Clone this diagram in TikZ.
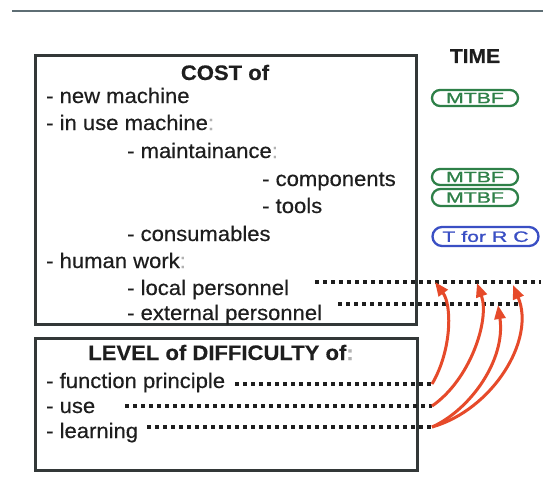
\documentclass[tikz,border=0pt]{standalone}
\usepackage{fontspec}
\setmainfont[FakeStretch=1.05,FakeBold=0.4]{Liberation Sans}
\usetikzlibrary{shapes.misc,arrows.meta}
\definecolor{textc}{HTML}{1E1E1E}
\definecolor{framec}{HTML}{333838}
\definecolor{greenc}{HTML}{2E8048}
\definecolor{bluec}{HTML}{3A4FC4}
\definecolor{arrc}{HTML}{E64A2A}
\definecolor{topc}{HTML}{5E6E74}
\begin{document}
\begin{tikzpicture}[x=1pt,y=-1pt,
  txt/.style={anchor=base west, inner sep=0pt, text=textc, font=\fontsize{21}{25}\selectfont},
  headtxt/.style={anchor=base, inner sep=0pt, text=textc, font=\fontsize{21}{25}\selectfont\bfseries},
  frame/.style={draw=framec, line width=3pt},
  pill/.style={rounded rectangle, draw, line width=2.3pt, inner sep=0pt, minimum width=86pt, minimum height=16pt, font=\fontsize{15}{15}\selectfont\addfontfeature{FakeBold=1}},
  greenpill/.style={pill, draw=greenc, text=greenc},
  bluepill/.style={pill, draw=bluec, text=bluec},
  dots/.style={draw=textc, line width=3.3pt, dash pattern=on 3.5pt off 4.5pt},
  arr/.style={draw=arrc, line width=3pt, -{Triangle[length=14pt,width=11pt]}}
]
\useasboundingbox (0,0) rectangle (543,500);
\fill[white] (0,0) rectangle (543,500);
% top rule
\draw[topc, line width=2.2pt] (12,11) -- (543,11);

% frames
\draw[frame] (35,56) rectangle (416,324);
\draw[frame] (35,338) rectangle (417,470);

% COST box texts
\node[headtxt] (cost) at (225,80) {COST of};
\node[txt] (newm) at (46,103) {- new machine};
\node[txt] (inuse) at (46,130) {- in use machine{\color{gray!60}:}};
\node[txt] (maint) at (127,158) {- maintainance{\color{gray!60}:}};
\node[txt] (comp) at (262,186) {- components};
\node[txt] (tools) at (262,213) {- tools};
\node[txt] (cons) at (127,241) {- consumables};
\node[txt] (human) at (46,268) {- human work{\color{gray!60}:}};
\node[txt] (local) at (127,295) {- local personnel};
\node[txt] (ext) at (127,320) {- external personnel};

% LEVEL box texts
\node[headtxt] (level) at (221,360) {LEVEL of DIFFICULTY of{\color{gray!60}:}};
\node[txt] (func) at (46,388) {- function principle};
\node[txt] (use) at (46,413) {- use};
\node[txt] (learn) at (46,438) {- learning};

% TIME column
\node[headtxt, font=\fontsize{20}{24}\selectfont\bfseries] (time) at (475,63) {TIME};
\node[greenpill] (m1) at (475,98) {\scalebox{1.35}[1]{MTBF}};
\node[greenpill] (m2) at (475,177) {\scalebox{1.35}[1]{MTBF}};
\node[greenpill, minimum height=17pt] (m3) at (475,197.5) {\scalebox{1.35}[1]{MTBF}};
\node[bluepill, minimum width=106pt, minimum height=19pt] (trc) at (485.5,236.5) {\scalebox{1.35}[1]{T for R C}};

% dotted leaders
\coordinate (l1s) at (315,282);
\coordinate (l1e) at (541,282);
\coordinate (l2s) at (338,304);
\coordinate (l2e) at (521,304);
\coordinate (f1s) at (235,384);
\coordinate (f1e) at (432,384);
\coordinate (u1s) at (125,406);
\coordinate (u1e) at (432,406);
\coordinate (g1s) at (147,427);
\coordinate (g1e) at (432,427);
\draw[dots] (l1s) -- (l1e);
\draw[dots] (l2s) -- (l2e);
\draw[dots] (f1s) -- (f1e);
\draw[dots] (u1s) -- (u1e);
\draw[dots] (g1s) -- (g1e);

% arrows
\coordinate (tA) at (435,282);
\coordinate (tB) at (477,283);
\coordinate (tC) at (498,305);
\coordinate (tD) at (513,285);
\draw[arr] (f1e) .. controls (452,350) and (452,305) .. (tA);
\draw[arr] (u1e) .. controls (470,380) and (490,320) .. (tB);
\draw[arr] (g1e) .. controls (470,410) and (506,360) .. (tC);
\draw[arr] (g1e) .. controls (492,410) and (536,340) .. (tD);
\end{tikzpicture}
\end{document}
